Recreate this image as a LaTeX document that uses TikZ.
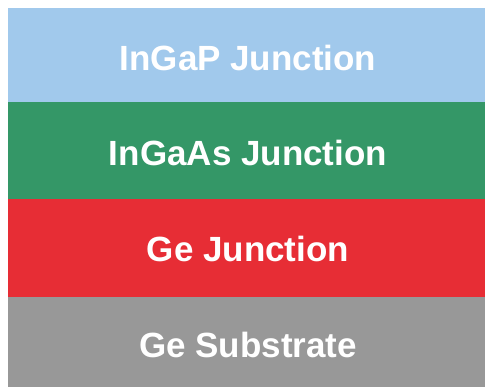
\documentclass[tikz,border=0pt]{standalone}
\usepackage{fontspec}
\setmainfont{Liberation Sans}
\usetikzlibrary{positioning}
\definecolor{ingap}{RGB}{161, 201, 236}
\definecolor{ingaas}{RGB}{52, 151, 103}
\definecolor{gejunc}{RGB}{231, 45, 53}
\definecolor{gesub}{RGB}{152, 152, 152}

\begin{document}
\begin{tikzpicture}[x=1pt, y=-1pt,
    layertext/.style={anchor=base, text=white, font=\fontsize{35}{40}\selectfont\bfseries, inner sep=0pt}]

    \useasboundingbox (0,0) rectangle (485,387);

    % layers, top to bottom
    \fill[ingap]  (8,8)     rectangle (485,102.5);
    \fill[ingaas] (8,102.5) rectangle (485,199.5);
    \fill[gejunc] (8,199.5) rectangle (485,297);
    \fill[gesub]  (8,297)   rectangle (485,387);

    \node[layertext] (ingaptext)  at (248,70.7)  {InGaP Junction};
    \node[layertext] (ingaastext) at (248,165.7) {InGaAs Junction};
    \node[layertext] (gejunctext) at (248,261.5) {Ge Junction};
    \node[layertext] (gesubtext)  at (248,358)   {Ge Substrate};

\end{tikzpicture}
\end{document}
